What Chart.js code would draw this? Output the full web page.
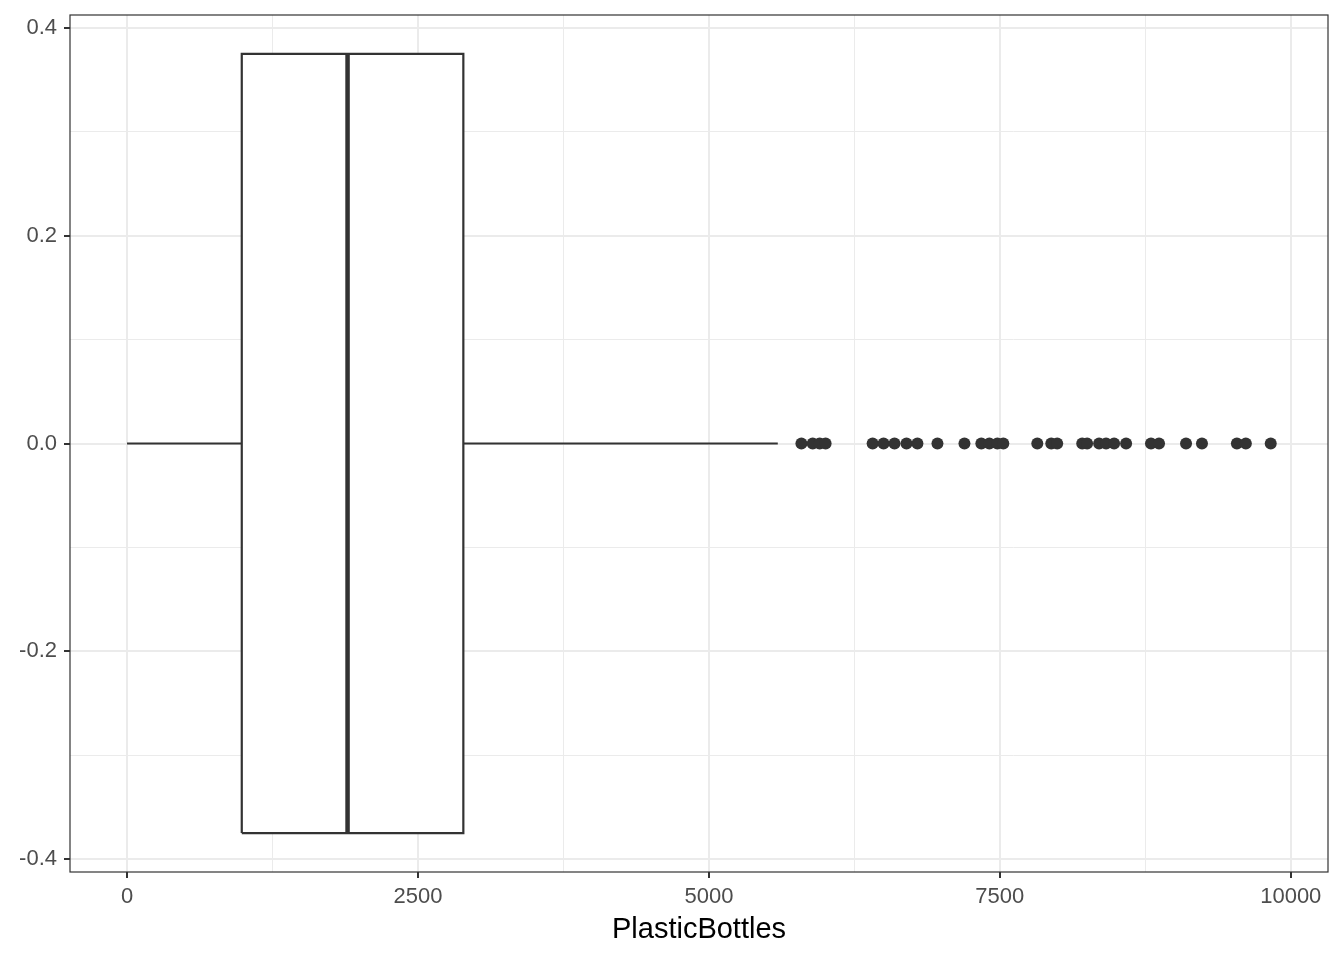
<!DOCTYPE html>
<html lang="en">
<head>
<meta charset="UTF-8">
<title>PlasticBottles boxplot</title>
<script src="https://cdn.jsdelivr.net/npm/chart.js"></script>
<style>
  html, body { margin: 0; padding: 0; background: #fff; }
  #wrap { width: 1344px; height: 960px; position: relative; }
</style>
</head>
<body>
<div id="wrap"><canvas id="boxChart"></canvas></div>
<script>
// five-number summary
const whiskerLow = 0;
const q1 = 986;
const median = 1895;
const q3 = 2890;
const whiskerHigh = 5592;
const boxHalf = 0.375;

// outlying points (PlasticBottles values)
const outliers = [
  5795, 5892, 5952, 6003, 6407, 6501, 6595, 6698, 6792, 6964,
  7196, 7341, 7410, 7479, 7530, 7822, 7942, 7993, 8208, 8250,
  8353, 8413, 8482, 8585, 8799, 8868, 9100, 9237, 9537, 9614, 9828
];

const xTicks = [0, 2500, 5000, 7500, 10000];
const xMinor = [1250, 3750, 6250, 8750];
const yTicks = [-0.4, -0.2, 0, 0.2, 0.4];
const yMinor = [-0.3, -0.1, 0.1, 0.3];

const ink = '#333333';
const gridCol = '#EBEBEB';
const tickText = '#4D4D4D';
const fam = 'Liberation Sans, Arial, sans-serif';

const isMajor = (list, v) => list.some(t => Math.abs(t - v) < 1e-9);

const panelBorder = {
  id: 'panelBorder',
  afterDraw(chart) {
    const a = chart.chartArea, c = chart.ctx;
    c.save();
    c.strokeStyle = ink;
    c.lineWidth = 1.2;
    c.strokeRect(a.left, a.top, a.right - a.left, a.bottom - a.top);
    c.restore();
  }
};

new Chart(document.getElementById('boxChart').getContext('2d'), {
  type: 'scatter',
  data: {
    datasets: [
      {
        label: 'outliers',
        data: outliers.map(v => ({ x: v, y: 0 })),
        backgroundColor: ink,
        borderColor: ink,
        pointRadius: 6,
        pointBorderWidth: 0
      },
      {
        label: 'median',
        data: [{ x: median, y: -boxHalf }, { x: median, y: boxHalf }],
        showLine: true,
        borderColor: ink,
        borderWidth: 4.5,
        pointRadius: 0
      },
      {
        label: 'box',
        data: [
          { x: q1, y: -boxHalf }, { x: q1, y: boxHalf },
          { x: q3, y: boxHalf }, { x: q3, y: -boxHalf }, { x: q1, y: -boxHalf }
        ],
        showLine: true,
        borderColor: ink,
        borderWidth: 2.2,
        borderJoinStyle: 'miter',
        pointRadius: 0
      },
      {
        label: 'lower whisker',
        data: [{ x: whiskerLow, y: 0 }, { x: q1, y: 0 }],
        showLine: true,
        borderColor: ink,
        borderWidth: 2,
        pointRadius: 0
      },
      {
        label: 'upper whisker',
        data: [{ x: q3, y: 0 }, { x: whiskerHigh, y: 0 }],
        showLine: true,
        borderColor: ink,
        borderWidth: 2,
        pointRadius: 0
      },
      {
        label: 'box fill',
        data: [{ x: q1, y: boxHalf }, { x: q3, y: boxHalf }],
        showLine: true,
        borderWidth: 0,
        borderColor: 'rgba(0,0,0,0)',
        backgroundColor: '#ffffff',
        fill: { value: -boxHalf },
        pointRadius: 0
      }
    ]
  },
  options: {
    responsive: true,
    maintainAspectRatio: false,
    animation: false,
    layout: { padding: { top: 15, right: 16, left: 0, bottom: 0 } },
    plugins: {
      legend: { display: false },
      tooltip: { enabled: false }
    },
    scales: {
      x: {
        type: 'linear',
        min: -490,
        max: 10320,
        afterFit: s => { s.height = 88; },
        afterBuildTicks: s => {
          s.ticks = [...xTicks, ...xMinor].sort((a, b) => a - b).map(v => ({ value: v }));
        },
        border: { display: false },
        grid: {
          color: c => gridCol,
          lineWidth: c => isMajor(xTicks, c.tick.value) ? 2 : 1,
          tickColor: c => isMajor(xTicks, c.tick.value) ? ink : 'rgba(0,0,0,0)',
          tickLength: 6,
          tickWidth: 2
        },
        ticks: {
          color: tickText,
          font: { family: fam, size: 22 },
          padding: 6,
          maxRotation: 0,
          autoSkip: false,
          callback: v => isMajor(xTicks, v) ? String(v) : ''
        },
        title: {
          display: true,
          text: 'PlasticBottles',
          color: '#000000',
          font: { family: fam, size: 29 },
          padding: { top: 0, bottom: 13 }
        }
      },
      y: {
        type: 'linear',
        min: -0.4125,
        max: 0.4125,
        afterFit: s => {
          s.width = 70;
          s.paddingTop = 0;
          s.paddingBottom = 0;
        },
        afterBuildTicks: s => {
          s.ticks = [...yTicks, ...yMinor].sort((a, b) => a - b).map(v => ({ value: v }));
        },
        border: { display: false },
        grid: {
          color: c => gridCol,
          lineWidth: c => isMajor(yTicks, c.tick.value) ? 2 : 1,
          tickColor: c => isMajor(yTicks, c.tick.value) ? ink : 'rgba(0,0,0,0)',
          tickLength: 6,
          tickWidth: 2
        },
        ticks: {
          color: tickText,
          font: { family: fam, size: 22 },
          padding: 7,
          autoSkip: false,
          callback: v => isMajor(yTicks, v) ? Number(v).toFixed(1) : ''
        }
      }
    }
  },
  plugins: [panelBorder]
});
</script>
</body>
</html>
